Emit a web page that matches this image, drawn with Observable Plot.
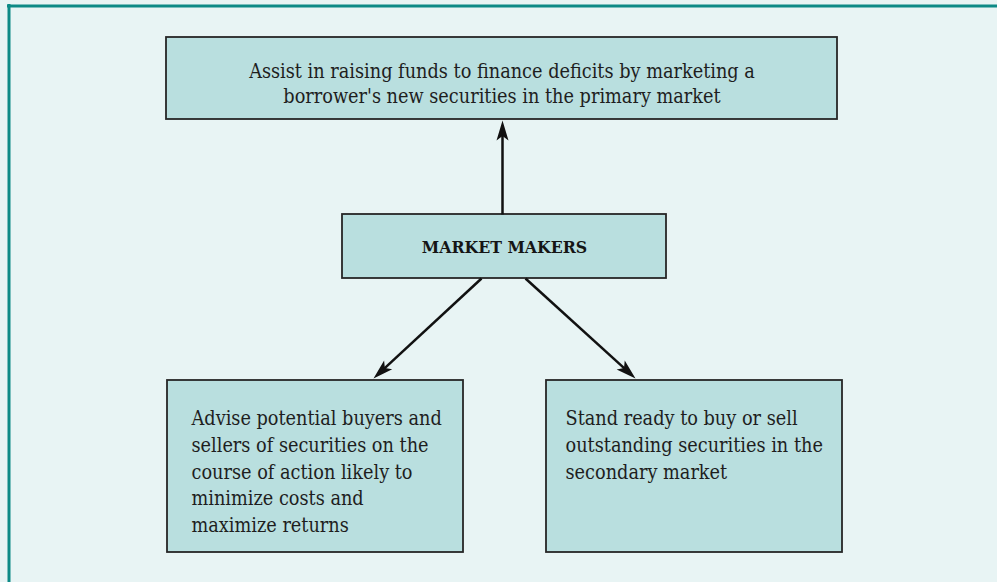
<!DOCTYPE html>
<html>
<head>
<meta charset="utf-8">
<script src="https://cdn.jsdelivr.net/npm/d3@7"></script>
<script src="https://cdn.jsdelivr.net/npm/@observablehq/plot@0.6"></script>
<style>
  html, body { margin: 0; padding: 0; background: #e8f4f4; }
  #chart svg { display: block; }
</style>
</head>
<body>
<div id="chart"></div>
<script>
// ---- Diagram content ----
const topLines = [
  "Assist in raising funds to finance deficits by marketing a",
  "borrower's new securities in the primary market"
];
const centerLabel = "MARKET MAKERS";
const leftLines = [
  "Advise potential buyers and",
  "sellers of securities on the",
  "course of action likely to",
  "minimize costs and",
  "maximize returns"
];
const rightLines = [
  "Stand ready to buy or sell",
  "outstanding securities in the",
  "secondary market"
];

// ---- Diagram layout (in a 997 x 582 coordinate space) ----
const boxNames = ["top", "center", "left", "right"];
const boxX1 = [166, 342, 167, 546];
const boxX2 = [837, 666, 463, 842];
const boxY1 = [37, 214, 380, 380];
const boxY2 = [119, 278, 552, 552];

const arrowFromX = [502, 481, 525];
const arrowFromY = [214, 278, 278];
const arrowToX = [502, 373, 635];
const arrowToY = [120, 378, 378];

// ---- Build tables ----
const boxes = boxNames.map((name, i) => ({name, x1: boxX1[i], x2: boxX2[i], y1: boxY1[i], y2: boxY2[i]}));
const arrows = arrowFromX.map((_, i) => {
  const x1 = arrowFromX[i], y1 = arrowFromY[i], x2 = arrowToX[i], y2 = arrowToY[i];
  const dx = x2 - x1, dy = y2 - y1, len = Math.hypot(dx, dy);
  const back = 12;
  return {
    x1, y1, x2, y2,
    sx: x2 - dx / len * back, sy: y2 - dy / len * back,
    angle: Math.atan2(dx, -dy) * 180 / Math.PI
  };
});

// barbed arrowhead with its tip at the origin, pointing up
const arrowHead = {
  draw(ctx) {
    ctx.moveTo(0, 0);
    ctx.lineTo(6, 20);
    ctx.lineTo(0, 15.5);
    ctx.lineTo(-6, 20);
    ctx.closePath();
  }
};

const FONT = "'DejaVu Serif Condensed', 'DejaVu Serif', serif";
const fs = 19.7;
const ink = "#1e1e1e";

const texts = [
  {text: topLines.join("\n"), x: (boxX1[0] + boxX2[0]) / 2, y: 74 - 0.71 * fs, anchor: "middle", lh: 25 / fs},
  {text: leftLines.join("\n"), x: 191, y: 420 - 0.71 * fs, anchor: "start", lh: 26.6 / fs},
  {text: rightLines.join("\n"), x: 565, y: 420 - 0.71 * fs, anchor: "start", lh: 26.6 / fs}
];

const plot = Plot.plot({
  width: 997,
  height: 582,
  margin: 0,
  style: {background: "#e8f4f4", fontFamily: FONT},
  x: {domain: [0, 997], range: [0, 997], axis: null},
  y: {domain: [0, 582], range: [0, 582], axis: null},
  marks: [
    // outer frame (top and left edges)
    Plot.ruleY([5.5], {x1: 7, x2: 997, stroke: "#0d8a86", strokeWidth: 3}),
    Plot.ruleX([8.5], {y1: 4, y2: 582, stroke: "#0d8a86", strokeWidth: 3}),
    // boxes
    Plot.rect(boxes, {x1: "x1", x2: "x2", y1: "y1", y2: "y2", fill: "#b9dfdf", stroke: "#262626", strokeWidth: 1.8}),
    // arrow shafts
    Plot.link(arrows, {x1: "x1", y1: "y1", x2: "sx", y2: "sy", stroke: "#111", strokeWidth: 2.5}),
    // arrow heads
    Plot.dot(arrows, {x: "x2", y: "y2", symbol: arrowHead, rotate: "angle", fill: "#111", stroke: "none", r: 5}),
    // text
    ...texts.map(t => Plot.text([t], {
      x: "x", y: "y", text: "text", textAnchor: t.anchor, lineAnchor: "top",
      lineHeight: t.lh, fontSize: fs, fill: ink, fontFamily: FONT
    })),
    Plot.text([centerLabel], {
      x: (boxX1[1] + boxX2[1]) / 2, y: 252.5, text: d => d, textAnchor: "middle", lineAnchor: "bottom",
      fontSize: 17.5, fontWeight: "bold", fill: "#151515", fontFamily: FONT
    })
  ]
});
document.getElementById("chart").append(plot);
</script>
</body>
</html>
